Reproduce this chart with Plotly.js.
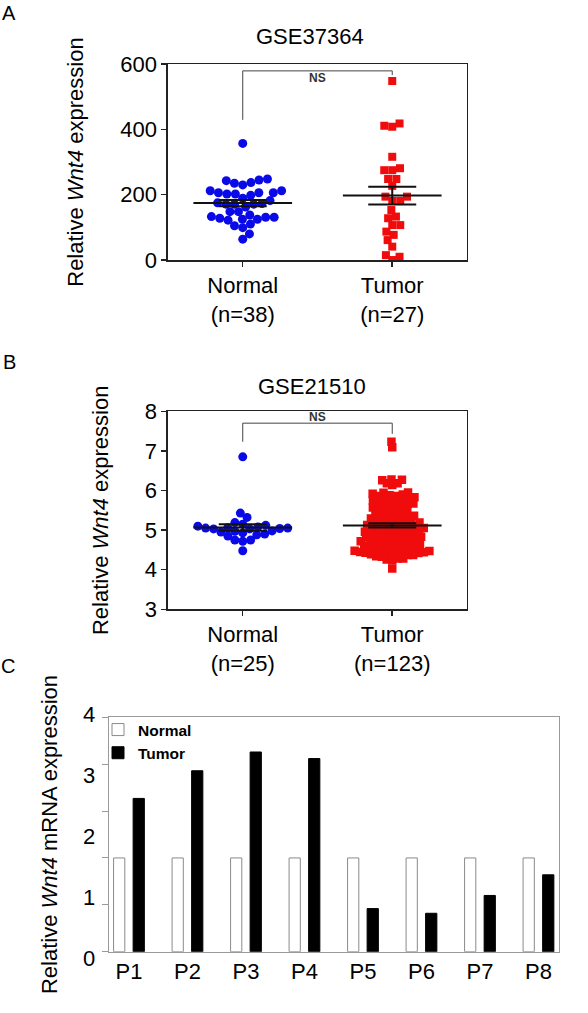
<!DOCTYPE html>
<html><head><meta charset="utf-8">
<script src="https://cdn.plot.ly/plotly-3.0.1.min.js"></script>
<style>html,body{margin:0;padding:0;background:#fff}</style>
</head><body><div id="chart" style="width:588px;height:1013px"></div>
<script>
// ---------- Panel A : GSE37364 ----------
const titleA = 'GSE37364';
const groupsA = ['Normal', 'Tumor'];
const normalA = [357, 243, 237, 230, 235, 245, 248, 206, 202, 212, 198, 202, 206, 206, 212, 189,
  182, 173, 171, 171, 171, 175, 138, 131, 128, 125, 148, 148, 122, 125, 131, 133, 99, 110, 105, 64, 80, 162];
const tumorA = [548, 418, 408, 411, 316, 281, 275, 275, 248, 248, 227, 194, 181, 181, 194, 153, 133,
  107, 128, 107, 87, 77, 61, 41, 15, 10, 0];
const yTicksA = [0, 200, 400, 600];

// ---------- Panel B : GSE21510 ----------
const titleB = 'GSE21510';
const groupsB = ['Normal', 'Tumor'];
const normalB = [6.85, 5.32, 5.43, 5.08, 5.05, 5.03, 5.10, 5.15, 5.12, 5.19, 5.06, 5.04, 5.03, 5.05,
  4.98, 4.95, 4.97, 4.93, 4.88, 4.85, 4.75, 4.72, 4.75, 4.48, 4.90];
const tumorB = [7.23, 7.09,
  6.27, 6.18, 6.14, 6.18, 6.26, 6.28,
  4.34, 4.28, 4.26, 4.03, 4.24, 4.28, 4.33, 4.37,
  5.95, 5.94, 5.92, 5.90, 5.88, 5.86, 5.86, 5.83, 5.81, 5.80, 5.77, 5.76, 5.74,
  5.72, 5.71, 5.70, 5.67, 5.66, 5.63, 5.62, 5.60, 5.57, 5.56, 5.54, 5.52, 5.50, 5.49, 5.46,
  5.43, 5.41, 5.40, 5.37, 5.36, 5.34, 5.33, 5.31, 5.29, 5.28, 5.26, 5.24, 5.23, 5.21, 5.19, 5.18, 5.16, 5.15,
  5.13, 5.12, 5.10, 5.09, 5.08, 5.07, 5.05, 5.04, 5.03, 5.01, 5.00, 4.99, 4.97, 4.96, 4.94, 4.93, 4.91, 4.90, 4.89, 4.87, 4.86,
  4.84, 4.83, 4.82, 4.80, 4.79, 4.78, 4.76, 4.75, 4.74, 4.72, 4.71, 4.70, 4.68, 4.67, 4.66, 4.64, 4.63, 4.62, 4.61, 4.60, 4.59,
  4.57, 4.55, 4.54, 4.53, 4.52, 4.50, 4.49, 4.48, 4.47, 4.46, 4.45, 4.44, 4.43, 4.42, 4.41, 4.40, 4.39, 4.38, 4.37];
const yTicksB = [3, 4, 5, 6, 7, 8];

// ---------- Panel C : qPCR ----------
const patientsC = ['P1', 'P2', 'P3', 'P4', 'P5', 'P6', 'P7', 'P8'];
const normalC = [1, 1, 1, 1, 1, 1, 1, 1];
const tumorC = [1.635, 1.93, 2.13, 2.06, 0.46, 0.41, 0.60, 0.82];
const seriesC = ['Normal', 'Tumor'];
const yTickTextC = ['0', '1', '2', '3', '4'];

// ---------- layout constants ----------
const W = 588, H = 1013;
const FONT = 'Liberation Sans, Arial, Helvetica, sans-serif';
const dom = {
  A: { x: [0.2857, 0.7942], y: [0.7433, 0.9368], yr: [0, 600] },
  B: { x: [0.2857, 0.7942], y: [0.3985, 0.5940], yr: [3, 8] },
  C: { x: [0.1849, 0.9502], y: [0.0605, 0.2919], yr: [0, 2.5] }
};
const XR_AB = [-0.5, 1.5];
const XR_C = [-0.346, 7.346];
const MEAN_HALF = 0.33;   // half length of mean line (category units)
const SEM_WHISKER = 24;   // px
const BLUE = 'rgb(10,10,232)', RED = 'rgb(240,12,12)';

function pxPerX(d, xr) { return (d.x[1] - d.x[0]) * W / (xr[1] - xr[0]); }
function pxPerY(d) { return (d.y[1] - d.y[0]) * H / (d.yr[1] - d.yr[0]); }

function swarmOffsets(values, ppy, ppx, diam) {
  const order = values.map((v, i) => i).sort((a, b) => values[a] - values[b]);
  const placed = [];
  const offs = new Array(values.length).fill(0);
  order.forEach((i, n) => {
    const y = values[i] * ppy;
    const blocks = [];
    placed.forEach(p => {
      const dy = Math.abs(p.y - y);
      if (dy < diam) {
        const dx = Math.sqrt(diam * diam - dy * dy);
        blocks.push([p.x - dx, p.x + dx]);
      }
    });
    const cands = [0];
    blocks.forEach(b => cands.push(b[0], b[1]));
    const ok = c => blocks.every(b => c <= b[0] + 1e-6 || c >= b[1] - 1e-6);
    let best = null;
    cands.forEach(c => {
      if (!ok(c)) return;
      if (best === null || Math.abs(c) < Math.abs(best) - 1e-6 ||
        (Math.abs(Math.abs(c) - Math.abs(best)) < 1e-6 && (n % 2 ? c > best : c < best))) best = c;
    });
    placed.push({ x: best, y: y });
    offs[i] = best / ppx;
  });
  return offs;
}
function stats(v) {
  const n = v.length, m = v.reduce((a, b) => a + b, 0) / n;
  const sd = Math.sqrt(v.reduce((a, b) => a + (b - m) * (b - m), 0) / (n - 1));
  return { m: m, sem: sd / Math.sqrt(n) };
}

const traces = [];
function dotPanel(sets, d, xa, ya, symbols, colors, sizes, diams) {
  const ppx = pxPerX(d, XR_AB), ppy = pxPerY(d);
  sets.forEach((vals, gi) => {
    const offs = swarmOffsets(vals, ppy, ppx, diams[gi]);
    traces.push({
      type: 'scatter', mode: 'markers', xaxis: xa, yaxis: ya, showlegend: false, hoverinfo: 'y',
      x: offs.map(o => gi + o), y: vals,
      marker: { symbol: symbols[gi], size: sizes[gi], color: colors[gi], line: { width: 0 } }
    });
  });
  sets.forEach((vals, gi) => {
    const s = stats(vals);
    traces.push({
      type: 'scatter', mode: 'lines', xaxis: xa, yaxis: ya, showlegend: false, hoverinfo: 'skip',
      x: [gi - MEAN_HALF, gi + MEAN_HALF], y: [s.m, s.m], line: { color: '#111', width: 2 }
    });
    traces.push({
      type: 'scatter', mode: 'markers', xaxis: xa, yaxis: ya, showlegend: false, hoverinfo: 'skip',
      x: [gi], y: [s.m], marker: { size: 1, color: 'rgba(0,0,0,0)' },
      error_y: { type: 'data', array: [s.sem], width: SEM_WHISKER, thickness: 2, color: '#111' }
    });
  });
}
dotPanel([normalA, tumorA], dom.A, 'x', 'y', ['circle', 'square'], [BLUE, RED], [9, 8], [8.5, 8]);
dotPanel([normalB, tumorB], dom.B, 'x2', 'y2', ['circle', 'square'], [BLUE, RED], [9, 8.5], [8, 5.6]);

// Panel C bars
traces.push({
  type: 'bar', name: seriesC[0], x: patientsC, y: normalC, xaxis: 'x3', yaxis: 'y3',
  width: 0.192, offset: -0.263, marker: { color: '#fff', line: { color: '#8a8a8a', width: 1 } }, hoverinfo: 'y'
});
traces.push({
  type: 'bar', name: seriesC[1], x: patientsC, y: tumorC, xaxis: 'x3', yaxis: 'y3',
  width: 0.192, offset: 0.071, marker: { color: '#000', line: { color: '#000', width: 1 } }, hoverinfo: 'y'
});

const axisLineAB = { showline: true, mirror: true, linecolor: '#222', linewidth: 1.5, showgrid: false, zeroline: false,
  ticks: 'outside', ticklen: 5, tickwidth: 1.5, tickcolor: '#222', tickfont: { size: 22, color: '#000' } };
const catText = (g, arr) => g.map((name, i) => name + '<br>(n=' + arr[i].length + ')');

const ann = [];
[['A', 9, 13], ['B', 9, 362], ['C', 8, 666]].forEach(p => ann.push({
  text: p[0], xref: 'paper', yref: 'paper', x: p[1] / W, y: 1 - p[2] / H, xanchor: 'center', yanchor: 'middle',
  showarrow: false, font: { size: 20, color: '#000' }
}));
[[titleA, 310, 37], [titleB, 312, 386]].forEach(p => ann.push({
  text: p[0], xref: 'paper', yref: 'paper', x: p[1] / W, y: 1 - p[2] / H, xanchor: 'center', yanchor: 'middle',
  showarrow: false, font: { size: 22, color: '#000' }
}));
ann.push({ text: '<b>NS</b>', xref: 'x', yref: 'y', x: 0.5, y: 556, showarrow: false, font: { size: 12, color: '#333' } });
ann.push({ text: '<b>NS</b>', xref: 'x2', yref: 'y2', x: 0.5, y: 7.85, showarrow: false, font: { size: 12, color: '#333' } });
// Panel C tick labels (in the original they are not aligned with the tick marks)
const LAB0 = -0.071, LABSTEP = 0.651;
const c2paper = v => dom.C.y[0] + (v - dom.C.yr[0]) / (dom.C.yr[1] - dom.C.yr[0]) * (dom.C.y[1] - dom.C.y[0]);
yTickTextC.forEach((t, k) => ann.push({
  text: t, xref: 'paper', yref: 'paper', x: 97 / W, y: c2paper(LAB0 + k * LABSTEP), xanchor: 'right', yanchor: 'middle',
  showarrow: false, font: { size: 22, color: '#000' }
}));

const br = (xa, ya, top, l, r) => [
  { type: 'line', xref: xa, yref: ya, x0: 0, x1: 1, y0: top, y1: top, line: { color: '#444', width: 1 } },
  { type: 'line', xref: xa, yref: ya, x0: 0, x1: 0, y0: top, y1: l, line: { color: '#444', width: 1 } },
  { type: 'line', xref: xa, yref: ya, x0: 1, x1: 1, y0: top, y1: r, line: { color: '#444', width: 1 } }
];
const shapes = [].concat(br('x', 'y', 579, 429, 566), br('x2', 'y2', 7.70, 7.23, 7.43));

const layout = {
  width: W, height: H, margin: { l: 0, r: 0, t: 0, b: 0 },
  paper_bgcolor: '#fff', plot_bgcolor: '#fff',
  font: { family: FONT, color: '#000', size: 22 },
  barmode: 'overlay',
  xaxis: Object.assign({}, axisLineAB, { domain: dom.A.x, anchor: 'y', range: XR_AB, tickmode: 'array',
    tickvals: [0, 1], ticktext: catText(groupsA, [normalA, tumorA]) }),
  yaxis: Object.assign({}, axisLineAB, { domain: dom.A.y, anchor: 'x', range: dom.A.yr, tickmode: 'array', tickvals: yTicksA,
    title: { text: 'Relative <i>Wnt4</i> expression', font: { size: 22 }, standoff: 30 } }),
  xaxis2: Object.assign({}, axisLineAB, { domain: dom.B.x, anchor: 'y2', range: XR_AB, tickmode: 'array',
    tickvals: [0, 1], ticktext: catText(groupsB, [normalB, tumorB]) }),
  yaxis2: Object.assign({}, axisLineAB, { domain: dom.B.y, anchor: 'x2', range: dom.B.yr, tickmode: 'array', tickvals: yTicksB,
    title: { text: 'Relative <i>Wnt4</i> expression', font: { size: 22 }, standoff: 30 } }),
  xaxis3: { domain: dom.C.x, anchor: 'y3', type: 'category', range: XR_C, showline: true, mirror: true,
    linecolor: '#9a9a9a', linewidth: 1, ticks: '', showgrid: false, zeroline: false, tickfont: { size: 22, color: '#000' } },
  yaxis3: { domain: dom.C.y, anchor: 'x3', range: dom.C.yr, dtick: 0.5, tick0: 0, showticklabels: false,
    ticks: 'outside', ticklen: 6, tickcolor: '#9a9a9a', showline: true, mirror: true, linecolor: '#9a9a9a', linewidth: 1,
    showgrid: false, zeroline: false,
    title: { text: 'Relative <i>Wnt4</i> mRNA expression', font: { size: 22 }, standoff: 38 } },
  showlegend: true,
  legend: { x: 98 / W, y: 1 - 713 / H, xanchor: 'left', yanchor: 'top', bgcolor: 'rgba(0,0,0,0)',
    font: { size: 15.5, weight: 'bold', color: '#000' }, tracegroupgap: 0 },
  annotations: ann, shapes: shapes
};
Plotly.newPlot('chart', traces, layout, { displayModeBar: false, staticPlot: true });
</script></body></html>
